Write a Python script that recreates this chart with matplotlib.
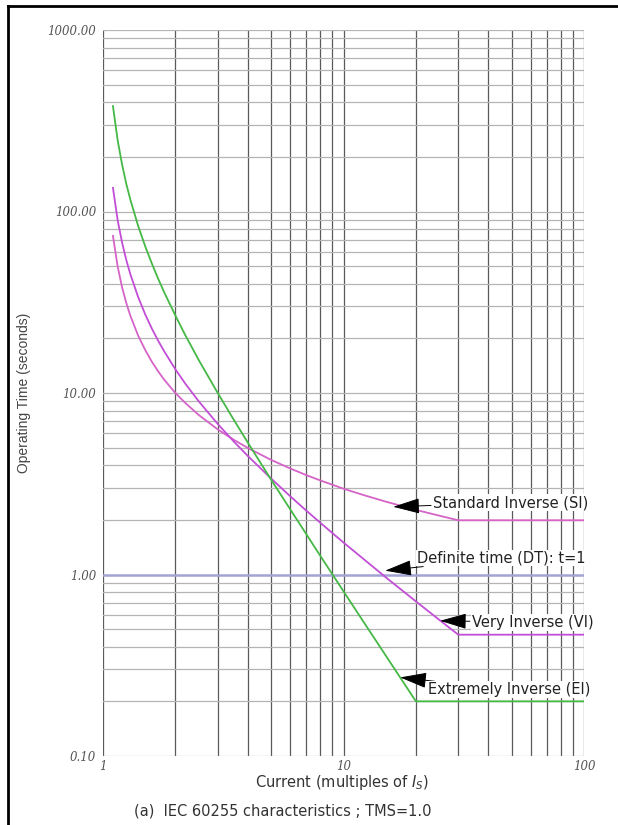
import numpy as np
import matplotlib
matplotlib.use('Agg')
import matplotlib.pyplot as plt
from matplotlib.ticker import FixedLocator, NullFormatter

# current in multiples of Is
current = [1.1, 1.15, 1.2, 1.25, 1.3, 1.4, 1.5, 1.6, 1.7, 1.8, 2, 2.2, 2.5, 3, 3.5, 4, 5, 6,
           7, 8, 10, 12, 15, 20, 25, 30, 40, 60, 100]

# standard inverse, flat from 30 onward
si_time = [73.4, 50.0, 38.3, 31.3, 26.6, 20.7, 17.2, 14.8, 13.1, 11.8, 10.0, 8.81, 7.57,
           6.30, 5.52, 4.98, 4.28, 3.84, 3.53, 3.30, 2.97, 2.75, 2.52, 2.27, 2.11, 1.99,
           1.99, 1.99, 1.99]
# very inverse, flat from 30 onward
vi_time = [135, 90, 67.5, 54, 45, 33.8, 27, 22.5, 19.3, 16.9, 13.5, 11.25, 9.0, 6.75, 5.4,
           4.5, 3.38, 2.7, 2.25, 1.93, 1.5, 1.23, 0.964, 0.711, 0.563, 0.466, 0.466, 0.466,
           0.466]
# extremely inverse, flat from 20 onward
ei_current = [1.1, 1.15, 1.2, 1.25, 1.3, 1.4, 1.5, 1.6, 1.7, 1.8, 2, 2.2, 2.5, 3, 3.5, 4, 5,
              6, 7, 8, 10, 12, 15, 20, 100]
ei_time = [381, 248, 182, 142, 116, 83.3, 64, 51.3, 42.3, 35.7, 26.7, 20.8, 15.2, 10.0,
           7.11, 5.33, 3.33, 2.29, 1.67, 1.27, 0.808, 0.559, 0.357, 0.200, 0.200]

dt_time = 1.0

y_ticks = [0.1, 1, 10, 100, 1000]
y_labels = ['0.10', '1.00', '10.00', '100.00', '1000.00']
x_ticks = [1, 10, 100]
x_labels = ['1', '10', '100']

fig = plt.figure(figsize=(6.18, 8.25), dpi=100)
ax = fig.add_axes([103/618, 1-756/825, 481/618, 726/825])
ax.set_xscale('log')
ax.set_yscale('log')
ax.set_xlim(1, 100)
ax.set_ylim(0.1, 1000)

# grid: dark verticals, light horizontals
minor_x = [m * d for d in [1, 10] for m in range(1, 10)] + [100]
minor_y = [m * d for d in [0.1, 1, 10, 100] for m in range(1, 10)] + [1000]
for xv in minor_x:
    ax.axvline(xv, color='#5a5a5a', lw=0.9, zorder=1)
for yv in minor_y:
    if yv == 1:
        continue
    ax.axhline(yv, color='#b4b4b4', lw=0.9, zorder=1)

# definite time line
ax.axhline(dt_time, color='#a3a3d6', lw=1.8, zorder=2)

ax.plot(current, si_time, color='#d563c8', lw=1.3, zorder=3)
ax.plot(current, vi_time, color='#c24ed6', lw=1.3, zorder=3)
ax.plot(ei_current, ei_time, color='#45b845', lw=1.3, zorder=3)

for s in ax.spines.values():
    s.set_visible(False)

ax.xaxis.set_major_locator(FixedLocator(x_ticks))
ax.xaxis.set_minor_formatter(NullFormatter())
ax.set_xticks(x_ticks)
ax.set_xticklabels(x_labels)
ax.set_yticks(y_ticks)
ax.set_yticklabels(y_labels)
ax.yaxis.set_minor_formatter(NullFormatter())
ax.tick_params(which='both', length=0)
ax.tick_params(axis='y', pad=5)
ax.tick_params(axis='x', pad=3)
for lab in ax.get_xticklabels() + ax.get_yticklabels():
    lab.set_fontfamily('DejaVu Serif')
    lab.set_fontstyle('italic')
    lab.set_fontsize(8.5)
    lab.set_color('#555555')

ax.set_ylabel('Operating Time (seconds)', family='Liberation Sans', fontsize=10,
              color='#444444')
ax.yaxis.set_label_coords(-0.15, 0.5)

fig.text(0.554, 1-783/825, 'Current (multiples of $I_S$)', ha='center', va='center',
         fontsize=10.5, color='#333333')
fig.text(0.458, 1-811/825, '(a)  IEC 60255 characteristics ; TMS=1.0', ha='center',
         va='center', fontsize=10.5, color='#333333')

arrow = dict(arrowstyle='-|>,head_length=1.2,head_width=0.35', color='black', lw=0.7,
             mutation_scale=14, shrinkA=1, shrinkB=0)
notes = [('Standard Inverse (SI)', (16.1, 2.36), (23.6, 2.49)),
         ('Definite time (DT): t=1', (14.9, 1.05), (20.2, 1.23)),
         ('Very Inverse (VI)', (25.2, 0.556), (34.2, 0.545)),
         ('Extremely Inverse (EI)', (17.2, 0.271), (22.5, 0.232))]
for txt, tip, pos in notes:
    ax.annotate(txt, xy=tip, xytext=pos, ha='left', va='center', fontsize=10.5,
                color='#222222', arrowprops=arrow, zorder=5,
                bbox=dict(fc='white', ec='none', pad=0.5))

# outer frame (left and top edges visible in the original)
fig.add_artist(plt.Line2D([8/618, 8/618], [0, 1-6/825], color='black', lw=2))
fig.add_artist(plt.Line2D([8/618, 1], [1-6/825, 1-6/825], color='black', lw=2))

fig.savefig('out.png', dpi=100)
